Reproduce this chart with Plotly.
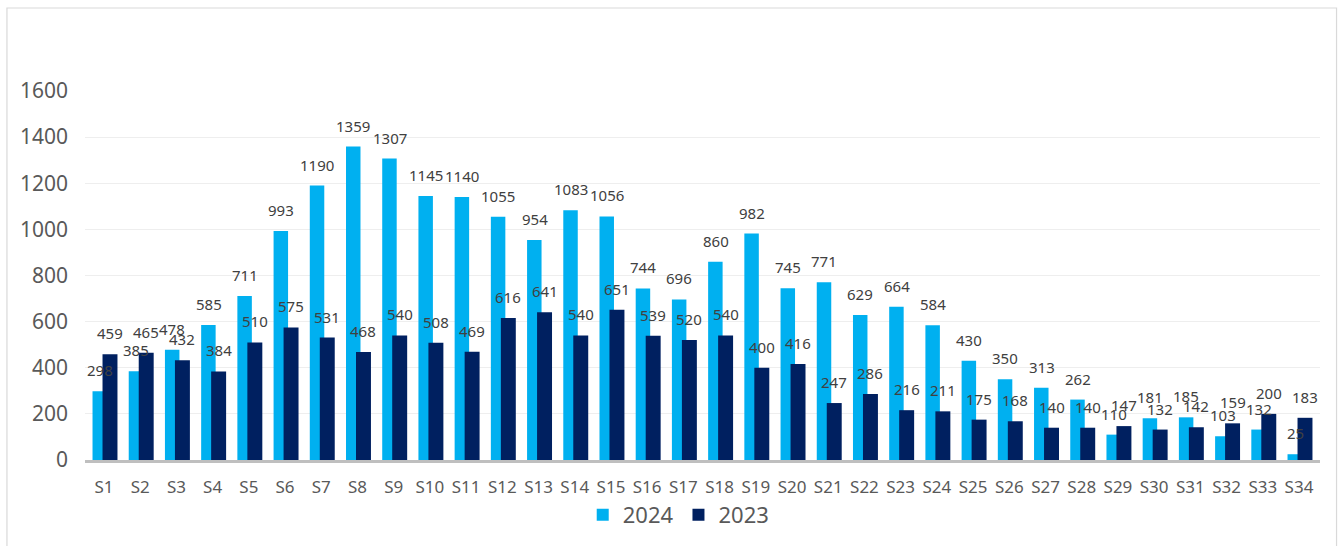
import plotly.graph_objects as go

categories = [f"S{i}" for i in range(1, 35)]
values_2024 = [298, 385, 478, 585, 711, 993, 1190, 1359, 1307, 1145, 1140, 1055, 954, 1083, 1056,
               744, 696, 860, 982, 745, 771, 629, 664, 584, 430, 350, 313, 262, 110, 181, 185,
               103, 132, 25]
values_2023 = [459, 465, 432, 384, 510, 575, 531, 468, 540, 508, 469, 616, 641, 540, 651,
               539, 520, 540, 400, 416, 247, 286, 216, 211, 175, 168, 140, 140, 147, 132, 142,
               159, 200, 183]
series_names = ["2024", "2023"]
y_ticks = [0, 200, 400, 600, 800, 1000, 1200, 1400, 1600]

LIGHT = "#00B0F0"
DARK = "#002060"
FONT = "Noto Sans"

fig = go.Figure()
fig.add_trace(go.Bar(x=categories, y=values_2024, name=series_names[0],
                     marker=dict(color=LIGHT, line=dict(width=0)),
                     offset=-0.317, width=0.40))
fig.add_trace(go.Bar(x=categories, y=values_2023, name=series_names[1],
                     marker=dict(color=DARK, line=dict(width=0)),
                     offset=-0.041, width=0.413))

annotations = []
for c, v in zip(categories, values_2024):
    annotations.append(dict(x=c, y=v, text=str(v), showarrow=False, xshift=-4, yshift=21,
                            yanchor="middle", xanchor="center",
                            font=dict(family=FONT, size=15, color="#404040")))
for c, v in zip(categories, values_2023):
    annotations.append(dict(x=c, y=v, text=str(v), showarrow=False, xshift=6, yshift=21,
                            yanchor="middle", xanchor="center",
                            font=dict(family=FONT, size=15, color="#404040")))

fig.update_layout(
    width=1344, height=546,
    margin=dict(l=85, r=24, t=91, b=86, autoexpand=False),
    paper_bgcolor="white", plot_bgcolor="white",
    barmode="overlay",
    font=dict(family=FONT, color="#595959"),
    annotations=annotations,
    showlegend=True,
    legend=dict(orientation="h", xref="container", yref="container",
                x=0.505, xanchor="center", y=0.057, yanchor="middle",
                font=dict(family=FONT, size=22, color="#595959"),
                traceorder="normal", itemwidth=30),
    shapes=[dict(type="rect", xref="paper", yref="paper",
                 x0=-0.0632, x1=1.0134, y0=-0.3, y1=1.2249,
                 line=dict(color="#D9D9D9", width=1.2), fillcolor="rgba(0,0,0,0)",
                 layer="below")],
)
fig.update_xaxes(type="category", showgrid=False, showline=True, linecolor="#BFBFBF",
                 linewidth=2.5, ticks="", tickfont=dict(family=FONT, size=17, color="#595959"),
                 ticklabelstandoff=10, automargin=False)
fig.update_yaxes(range=[0, 1600], tickvals=y_ticks, showgrid=True, gridcolor="#EEEEEE",
                 gridwidth=1.3, zeroline=False, showline=False, ticks="",
                 tickfont=dict(family=FONT, size=21, color="#595959"),
                 ticklabelstandoff=16, automargin=False)

fig.write_html("out.html")
